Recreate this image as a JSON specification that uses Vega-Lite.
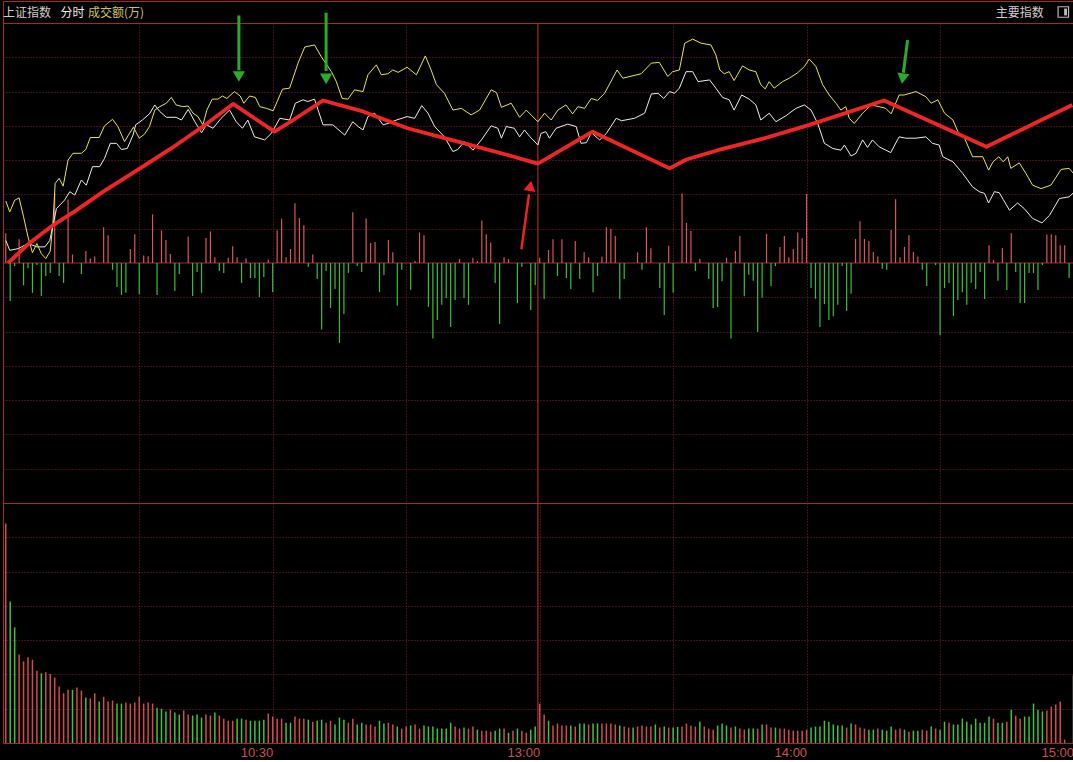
{
"$schema":"https://vega.github.io/schema/vega-lite/v6.json",
"background":"#000000",
"padding":0,
"autosize":{"type":"pad"},
"spacing":0,
"bounds":"flush",
"resolve":{"scale":{"x":"independent","y":"independent","color":"independent"}},
"config":{
 "view":{"stroke":"#a82828","strokeWidth":1},
 "axis":{"gridColor":"#8c2020","gridDash":[1,2],"gridOpacity":1,"gridWidth":1,"ticks":false,"domain":false,"labels":false}
},
"datasets":{
"hdr":[{"t":-0.62,"v":0.45,"s":"上证指数","k":"a"},{"t":12.3,"v":0.45,"s":"分时","k":"b"},{"t":18.5,"v":0.45,"s":"成交额(万)","k":"c"},{"t":222.5,"v":0.45,"s":"主要指数","k":"a"}],
"icon":[{"t":237.7,"v":0.5}],
"zero":[{"t":-0.62,"v":0},{"t":240.1,"v":0}],
"noon":[{"t":119.6,"v":-7},{"t":119.6,"v":7}],
"noonv":[{"t":119.6,"v":0},{"t":119.6,"v":7}],
"flow":[{"t":0,"v":0.87},{"t":1,"v":-1.11},{"t":2,"v":-0.09},{"t":3,"v":0.69},{"t":4,"v":-0.65},{"t":5,"v":-0.15},{"t":6,"v":-0.87},{"t":7,"v":-0.06},{"t":8,"v":-0.96},{"t":9,"v":-0.38},{"t":10,"v":-0.29},{"t":11,"v":2.04},{"t":12,"v":-0.38},{"t":13,"v":-0.58},{"t":14,"v":1.85},{"t":15,"v":0.25},{"t":17,"v":-0.32},{"t":18,"v":0.35},{"t":19,"v":0.13},{"t":20,"v":0.19},{"t":22,"v":1.04},{"t":23,"v":0.81},{"t":24,"v":-0.2},{"t":25,"v":-0.7},{"t":26,"v":-0.93},{"t":27,"v":-0.87},{"t":28,"v":0.41},{"t":29,"v":0.84},{"t":30,"v":-0.91},{"t":31,"v":0.22},{"t":32,"v":0.2},{"t":33,"v":1.42},{"t":34,"v":-0.93},{"t":35,"v":0.95},{"t":36,"v":0.67},{"t":37,"v":0.26},{"t":38,"v":-0.82},{"t":39,"v":-0.32},{"t":41,"v":0.77},{"t":42,"v":-0.96},{"t":43,"v":-0.26},{"t":44,"v":-0.87},{"t":45,"v":0.73},{"t":46,"v":0.92},{"t":47,"v":0.17},{"t":48,"v":-0.23},{"t":49,"v":-0.29},{"t":50,"v":0.15},{"t":51,"v":0.49},{"t":52,"v":0.17},{"t":53,"v":-0.58},{"t":54,"v":0.14},{"t":55,"v":-0.44},{"t":56,"v":-0.44},{"t":57,"v":-0.99},{"t":58,"v":-0.41},{"t":59,"v":0.1},{"t":60,"v":-0.85},{"t":61,"v":0.95},{"t":62,"v":1.29},{"t":63,"v":0.17},{"t":64,"v":0.41},{"t":65,"v":1.74},{"t":66,"v":1.31},{"t":67,"v":1.1},{"t":68,"v":-0.12},{"t":69,"v":0.25},{"t":70,"v":-0.47},{"t":71,"v":-1.94},{"t":72,"v":-0.23},{"t":73,"v":-1.31},{"t":74,"v":-0.76},{"t":75,"v":-2.33},{"t":76,"v":-1.49},{"t":77,"v":-0.29},{"t":78,"v":1.48},{"t":79,"v":-0.09},{"t":80,"v":-0.26},{"t":81,"v":1.3},{"t":82,"v":0.58},{"t":83,"v":0.61},{"t":84,"v":-0.85},{"t":85,"v":-0.35},{"t":86,"v":0.67},{"t":87,"v":0.31},{"t":88,"v":-1.25},{"t":89,"v":-0.2},{"t":91,"v":-0.78},{"t":92,"v":0.06},{"t":93,"v":0.89},{"t":94,"v":0.81},{"t":95,"v":-1.28},{"t":96,"v":-2.2},{"t":97,"v":-1.66},{"t":98,"v":-1.22},{"t":99,"v":-1.02},{"t":100,"v":-1.87},{"t":101,"v":-1.08},{"t":102,"v":0.12},{"t":103,"v":-1.02},{"t":104,"v":-1.22},{"t":105,"v":0.15},{"t":106,"v":0.06},{"t":107,"v":1.24},{"t":108,"v":0.84},{"t":109,"v":0.6},{"t":110,"v":-0.58},{"t":111,"v":-1.78},{"t":112,"v":0.17},{"t":113,"v":0.12},{"t":115,"v":-1.17},{"t":116,"v":-0.12},{"t":118,"v":-1.37},{"t":119,"v":-0.64},{"t":120,"v":0.15},{"t":121,"v":-1.05},{"t":122,"v":0.38},{"t":123,"v":0.69},{"t":124,"v":-0.38},{"t":125,"v":0.69},{"t":126,"v":-0.44},{"t":127,"v":-0.76},{"t":128,"v":0.64},{"t":129,"v":-0.47},{"t":130,"v":0.31},{"t":131,"v":0.17},{"t":132,"v":-0.85},{"t":133,"v":-0.38},{"t":134,"v":0.19},{"t":135,"v":1.04},{"t":136,"v":1.0},{"t":137,"v":0.79},{"t":138,"v":-1.05},{"t":139,"v":-0.47},{"t":142,"v":0.31},{"t":143,"v":-0.2},{"t":144,"v":1.04},{"t":145,"v":0.43},{"t":147,"v":-0.73},{"t":148,"v":-1.52},{"t":149,"v":0.5},{"t":150,"v":-0.87},{"t":152,"v":2.03},{"t":153,"v":1.17},{"t":154,"v":0.93},{"t":155,"v":-0.23},{"t":156,"v":0.12},{"t":158,"v":-0.47},{"t":159,"v":-1.31},{"t":160,"v":-1.28},{"t":161,"v":-0.53},{"t":162,"v":0.15},{"t":163,"v":-2.2},{"t":164,"v":0.35},{"t":165,"v":0.79},{"t":166,"v":-0.97},{"t":167,"v":-0.34},{"t":168,"v":-0.52},{"t":169,"v":-2.01},{"t":170,"v":-1.01},{"t":171,"v":0.85},{"t":172,"v":-0.67},{"t":173,"v":-0.09},{"t":174,"v":0.47},{"t":175,"v":0.79},{"t":176,"v":0.17},{"t":177,"v":0.41},{"t":178,"v":0.89},{"t":179,"v":0.72},{"t":180,"v":2.01},{"t":181,"v":-0.73},{"t":182,"v":-1.04},{"t":183,"v":-1.87},{"t":184,"v":-1.2},{"t":185,"v":-1.66},{"t":186,"v":-1.55},{"t":187,"v":-1.22},{"t":188,"v":-0.09},{"t":189,"v":-1.4},{"t":190,"v":-0.9},{"t":191,"v":0.7},{"t":192,"v":1.22},{"t":193,"v":0.7},{"t":194,"v":0.64},{"t":195,"v":0.32},{"t":196,"v":0.19},{"t":197,"v":-0.17},{"t":198,"v":-0.2},{"t":199,"v":0.96},{"t":200,"v":1.86},{"t":201,"v":0.17},{"t":202,"v":0.47},{"t":203,"v":0.81},{"t":204,"v":0.32},{"t":205,"v":0.19},{"t":206,"v":-0.2},{"t":207,"v":-0.67},{"t":209,"v":-0.06},{"t":210,"v":-2.1},{"t":211,"v":-0.73},{"t":212,"v":-0.58},{"t":213,"v":-1.55},{"t":214,"v":-1.08},{"t":215,"v":-0.85},{"t":216,"v":-1.22},{"t":217,"v":-0.58},{"t":218,"v":-0.76},{"t":219,"v":-0.26},{"t":220,"v":-1.05},{"t":221,"v":0.52},{"t":222,"v":0.09},{"t":223,"v":-0.52},{"t":224,"v":0.44},{"t":225,"v":-0.79},{"t":226,"v":0.87},{"t":227,"v":-0.26},{"t":228,"v":-1.17},{"t":229,"v":-1.17},{"t":230,"v":-0.29},{"t":231,"v":-0.29},{"t":232,"v":-0.79},{"t":233,"v":-0.06},{"t":234,"v":0.83},{"t":235,"v":0.84},{"t":236,"v":0.81},{"t":237,"v":0.52},{"t":238,"v":0.52},{"t":239,"v":-0.44}],
"yellow":[{"t":0,"v":1.81},{"t":0.9,"v":1.49},{"t":2,"v":1.83},{"t":3,"v":1.9},{"t":4,"v":1.35},{"t":5,"v":0.76},{"t":6,"v":0.3},{"t":7,"v":0.57},{"t":8,"v":0.27},{"t":9,"v":0.13},{"t":10,"v":0.35},{"t":10.6,"v":1.15},{"t":11.1,"v":2.32},{"t":12,"v":2.47},{"t":12.9,"v":2.24},{"t":14,"v":3.0},{"t":15.1,"v":3.2},{"t":17,"v":3.2},{"t":18,"v":3.31},{"t":19,"v":3.66},{"t":21,"v":3.66},{"t":22.2,"v":4.0},{"t":24,"v":4.19},{"t":25.2,"v":3.98},{"t":26.7,"v":3.54},{"t":27.7,"v":3.76},{"t":28.7,"v":3.96},{"t":30,"v":3.64},{"t":31.2,"v":3.76},{"t":32.3,"v":3.98},{"t":33.5,"v":4.46},{"t":34.6,"v":4.56},{"t":36.1,"v":4.66},{"t":37.2,"v":4.83},{"t":38.3,"v":4.61},{"t":39.8,"v":4.56},{"t":41,"v":4.58},{"t":42.1,"v":4.37},{"t":43.2,"v":4.27},{"t":44.3,"v":4.03},{"t":45.2,"v":4.46},{"t":46.4,"v":4.78},{"t":47.7,"v":4.78},{"t":48.7,"v":4.87},{"t":49.7,"v":4.8},{"t":51.4,"v":5.0},{"t":52.7,"v":4.87},{"t":53.5,"v":4.66},{"t":54.8,"v":4.87},{"t":56.1,"v":4.83},{"t":57.1,"v":4.56},{"t":58.6,"v":4.51},{"t":60.1,"v":4.44},{"t":61,"v":4.71},{"t":62.2,"v":5.07},{"t":63.8,"v":5.1},{"t":65.7,"v":5.83},{"t":67.2,"v":6.3},{"t":69.4,"v":6.36},{"t":70.9,"v":6.02},{"t":73.2,"v":5.58},{"t":74.3,"v":5.29},{"t":75.6,"v":4.8},{"t":76.9,"v":4.78},{"t":78.4,"v":5.05},{"t":80.3,"v":5.0},{"t":81.4,"v":5.49},{"t":83.3,"v":5.78},{"t":84.4,"v":5.49},{"t":85.9,"v":5.52},{"t":87,"v":5.63},{"t":88.2,"v":5.56},{"t":90.2,"v":5.71},{"t":92.3,"v":5.49},{"t":94.3,"v":6.04},{"t":95.6,"v":5.63},{"t":96.8,"v":5.2},{"t":98.6,"v":4.95},{"t":100.5,"v":4.46},{"t":102.4,"v":4.51},{"t":104.6,"v":4.32},{"t":106.5,"v":4.46},{"t":109.1,"v":5.05},{"t":110.3,"v":4.97},{"t":111.4,"v":4.54},{"t":113.6,"v":4.66},{"t":115.5,"v":4.25},{"t":117,"v":4.46},{"t":118.3,"v":4.29},{"t":119.6,"v":4.12},{"t":121.1,"v":4.37},{"t":122.6,"v":4.17},{"t":124.1,"v":4.46},{"t":125.9,"v":4.61},{"t":127.4,"v":4.35},{"t":128.6,"v":4.56},{"t":130.1,"v":4.51},{"t":131.6,"v":4.8},{"t":133,"v":4.74},{"t":134.6,"v":4.95},{"t":137.4,"v":5.63},{"t":138.7,"v":5.39},{"t":142.8,"v":5.52},{"t":145.1,"v":5.83},{"t":146.9,"v":5.85},{"t":148.8,"v":5.44},{"t":149.9,"v":5.58},{"t":151.4,"v":5.63},{"t":152.6,"v":6.41},{"t":154.4,"v":6.53},{"t":156.3,"v":6.41},{"t":158.5,"v":6.36},{"t":159.6,"v":6.07},{"t":160.5,"v":5.63},{"t":161.5,"v":5.52},{"t":162.6,"v":5.58},{"t":163.7,"v":5.32},{"t":165.6,"v":5.75},{"t":167.1,"v":5.63},{"t":168.6,"v":5.58},{"t":169.7,"v":5.2},{"t":170.7,"v":5.08},{"t":171.6,"v":5.29},{"t":172.7,"v":5.1},{"t":174.6,"v":5.29},{"t":176.1,"v":5.39},{"t":177.9,"v":5.54},{"t":179.5,"v":5.73},{"t":180.6,"v":5.95},{"t":182.1,"v":5.73},{"t":183.6,"v":5.2},{"t":185.1,"v":4.9},{"t":186.6,"v":4.66},{"t":187.7,"v":4.46},{"t":188.8,"v":4.56},{"t":189.6,"v":4.22},{"t":190.7,"v":4.07},{"t":192.6,"v":4.37},{"t":194.5,"v":4.61},{"t":196.3,"v":4.56},{"t":197.8,"v":4.51},{"t":199,"v":4.35},{"t":200.8,"v":4.9},{"t":201.9,"v":4.9},{"t":204.6,"v":5.0},{"t":206.8,"v":4.85},{"t":208,"v":4.66},{"t":209.5,"v":4.76},{"t":211,"v":4.37},{"t":212.9,"v":4.17},{"t":214,"v":3.83},{"t":215.5,"v":3.64},{"t":217.3,"v":3.1},{"t":219.6,"v":3.1},{"t":220.9,"v":2.71},{"t":221.9,"v":2.95},{"t":223.2,"v":3.1},{"t":224.2,"v":2.95},{"t":225.2,"v":3.1},{"t":225.9,"v":2.76},{"t":227.8,"v":2.92},{"t":229.3,"v":2.61},{"t":230.8,"v":2.27},{"t":232.7,"v":2.17},{"t":234.9,"v":2.27},{"t":237.2,"v":2.73},{"t":239,"v":2.76},{"t":240,"v":2.61}],
"white":[{"t":0,"v":0.66},{"t":0.9,"v":0.37},{"t":2.8,"v":0.42},{"t":5,"v":0.57},{"t":7,"v":0.47},{"t":8.8,"v":0.47},{"t":9.9,"v":0.66},{"t":11.4,"v":1.59},{"t":13.2,"v":1.83},{"t":14.4,"v":2.08},{"t":15.5,"v":1.98},{"t":17,"v":2.42},{"t":18.1,"v":2.27},{"t":19.5,"v":2.81},{"t":21.1,"v":2.81},{"t":22.2,"v":3.05},{"t":23.5,"v":3.49},{"t":24.9,"v":3.49},{"t":26,"v":3.31},{"t":27.3,"v":3.34},{"t":28.6,"v":3.73},{"t":29.2,"v":4.03},{"t":30.7,"v":4.17},{"t":32.3,"v":4.35},{"t":33.5,"v":4.61},{"t":34.6,"v":4.42},{"t":36.1,"v":4.25},{"t":38.3,"v":4.25},{"t":39.5,"v":4.17},{"t":41,"v":4.48},{"t":42.5,"v":4.12},{"t":44,"v":3.8},{"t":45.1,"v":4.03},{"t":46.6,"v":3.93},{"t":48.4,"v":4.22},{"t":50.3,"v":4.46},{"t":51.8,"v":4.12},{"t":53.2,"v":3.93},{"t":54.4,"v":4.17},{"t":55.9,"v":3.68},{"t":58.2,"v":3.59},{"t":59.7,"v":3.78},{"t":61.6,"v":4.22},{"t":63.8,"v":4.17},{"t":65.1,"v":4.66},{"t":66.8,"v":4.76},{"t":67.9,"v":4.71},{"t":69.4,"v":4.78},{"t":71.3,"v":4.03},{"t":73.5,"v":4.03},{"t":76.2,"v":3.73},{"t":78,"v":4.12},{"t":79.2,"v":3.98},{"t":80.3,"v":3.88},{"t":81.4,"v":4.27},{"t":82.9,"v":4.37},{"t":84.8,"v":4.03},{"t":85.9,"v":4.07},{"t":87.8,"v":4.17},{"t":90.2,"v":4.27},{"t":91.9,"v":4.22},{"t":93.5,"v":4.59},{"t":94.9,"v":4.37},{"t":96.4,"v":3.98},{"t":98.6,"v":3.68},{"t":100.5,"v":3.25},{"t":101.6,"v":3.31},{"t":103.1,"v":3.54},{"t":105,"v":3.29},{"t":106.9,"v":3.59},{"t":109.1,"v":4.0},{"t":110.6,"v":3.93},{"t":111.4,"v":3.64},{"t":112.5,"v":3.98},{"t":114.3,"v":3.93},{"t":115.5,"v":3.68},{"t":116.6,"v":3.88},{"t":117.7,"v":3.7},{"t":119.6,"v":3.44},{"t":120.3,"v":3.78},{"t":121.4,"v":3.83},{"t":122.2,"v":3.64},{"t":123.7,"v":3.93},{"t":126.3,"v":4.05},{"t":128.2,"v":3.98},{"t":129.3,"v":3.49},{"t":130.5,"v":3.51},{"t":131.6,"v":3.8},{"t":133.5,"v":3.59},{"t":135,"v":3.78},{"t":137.2,"v":4.22},{"t":138.4,"v":4.15},{"t":141.3,"v":4.22},{"t":143.6,"v":4.37},{"t":145.1,"v":4.93},{"t":146.6,"v":4.95},{"t":147.9,"v":4.8},{"t":149.2,"v":5.0},{"t":150.3,"v":4.95},{"t":151.4,"v":5.1},{"t":152.9,"v":5.58},{"t":154.4,"v":5.58},{"t":155.6,"v":5.29},{"t":158.2,"v":5.34},{"t":159.6,"v":5.1},{"t":161.1,"v":4.83},{"t":162.6,"v":4.76},{"t":163.7,"v":4.46},{"t":165.4,"v":4.9},{"t":167.1,"v":4.78},{"t":168.6,"v":4.61},{"t":169.7,"v":4.17},{"t":171.6,"v":4.37},{"t":173.1,"v":4.12},{"t":175.3,"v":4.29},{"t":177.6,"v":4.51},{"t":179.5,"v":4.61},{"t":181,"v":4.46},{"t":182.5,"v":4.07},{"t":184,"v":3.49},{"t":185.9,"v":3.34},{"t":187.7,"v":3.29},{"t":188.5,"v":3.44},{"t":190,"v":3.12},{"t":191.1,"v":3.2},{"t":192.6,"v":3.59},{"t":193.7,"v":3.37},{"t":194.8,"v":3.59},{"t":196.3,"v":3.39},{"t":198.9,"v":3.22},{"t":200.8,"v":3.68},{"t":202.3,"v":3.64},{"t":204.6,"v":3.64},{"t":206.8,"v":3.68},{"t":208.3,"v":3.49},{"t":209.8,"v":3.44},{"t":210.6,"v":3.1},{"t":212.9,"v":2.95},{"t":215.1,"v":2.61},{"t":217.3,"v":2.22},{"t":218.8,"v":2.08},{"t":220,"v":2.03},{"t":220.9,"v":1.75},{"t":222.2,"v":2.08},{"t":223.3,"v":2.05},{"t":224.2,"v":1.85},{"t":225.6,"v":1.54},{"t":227.4,"v":1.75},{"t":228.9,"v":1.59},{"t":230.8,"v":1.3},{"t":232.9,"v":1.17},{"t":234.6,"v":1.39},{"t":236.8,"v":1.88},{"t":239,"v":1.93},{"t":240,"v":2.05}],
"trend":[{"t":0.5,"v":0},{"t":5.5,"v":0.6},{"t":10.6,"v":1.1},{"t":16,"v":1.55},{"t":21.9,"v":2.08},{"t":30.8,"v":2.81},{"t":37.5,"v":3.37},{"t":44.3,"v":3.98},{"t":51.1,"v":4.64},{"t":60.4,"v":3.83},{"t":64,"v":4.12},{"t":71.3,"v":4.74},{"t":80.3,"v":4.42},{"t":90.3,"v":3.93},{"t":101.6,"v":3.54},{"t":112.8,"v":3.15},{"t":119.6,"v":2.9},{"t":131.9,"v":3.83},{"t":149.2,"v":2.76},{"t":153,"v":3.02},{"t":160,"v":3.29},{"t":170,"v":3.62},{"t":180.6,"v":4.03},{"t":197.4,"v":4.74},{"t":220.4,"v":3.39},{"t":239.7,"v":4.61}],
"shafts":[{"id":1,"t":52.4,"v":7.22,"t2":52.4,"v2":5.62},{"id":2,"t":72.0,"v":7.3,"t2":72.0,"v2":5.6},{"id":3,"t":202.7,"v":6.5,"t2":201.75,"v2":5.55},{"id":4,"t":115.9,"v":0.4,"t2":117.6,"v2":2.0}],
"heads":[{"id":1,"t":52.4,"v":5.44},{"id":2,"t":72.0,"v":5.37},{"id":3,"t":201.6,"v":5.38},{"id":4,"t":117.9,"v":2.25}],
"vol":[{"t":0,"v":6.4,"c":"r"},{"t":1,"v":4.13,"c":"g"},{"t":2,"v":3.37,"c":"g"},{"t":3,"v":2.58,"c":"r"},{"t":4,"v":2.38,"c":"r"},{"t":5,"v":2.5,"c":"r"},{"t":6,"v":2.43,"c":"r"},{"t":7,"v":2.11,"c":"r"},{"t":8,"v":2.03,"c":"g"},{"t":9,"v":2.06,"c":"r"},{"t":10,"v":2.01,"c":"r"},{"t":11,"v":1.91,"c":"r"},{"t":12,"v":1.65,"c":"r"},{"t":13,"v":1.45,"c":"r"},{"t":14,"v":1.55,"c":"r"},{"t":15,"v":1.55,"c":"g"},{"t":16,"v":1.62,"c":"r"},{"t":17,"v":1.53,"c":"r"},{"t":18,"v":1.33,"c":"g"},{"t":19,"v":1.3,"c":"r"},{"t":20,"v":1.45,"c":"r"},{"t":21,"v":1.21,"c":"g"},{"t":22,"v":1.35,"c":"r"},{"t":23,"v":1.21,"c":"r"},{"t":24,"v":1.24,"c":"r"},{"t":25,"v":1.15,"c":"g"},{"t":26,"v":1.15,"c":"g"},{"t":27,"v":1.18,"c":"r"},{"t":28,"v":1.15,"c":"r"},{"t":29,"v":1.18,"c":"r"},{"t":30,"v":1.35,"c":"r"},{"t":31,"v":1.15,"c":"r"},{"t":32,"v":1.18,"c":"r"},{"t":33,"v":1.15,"c":"r"},{"t":34,"v":1.03,"c":"g"},{"t":35,"v":1.0,"c":"g"},{"t":36,"v":0.92,"c":"g"},{"t":37,"v":0.97,"c":"r"},{"t":38,"v":0.89,"c":"g"},{"t":39,"v":0.83,"c":"g"},{"t":40,"v":0.95,"c":"r"},{"t":41,"v":0.83,"c":"r"},{"t":42,"v":0.8,"c":"g"},{"t":43,"v":0.83,"c":"g"},{"t":44,"v":0.74,"c":"g"},{"t":45,"v":0.83,"c":"r"},{"t":46,"v":0.8,"c":"r"},{"t":47,"v":0.89,"c":"g"},{"t":48,"v":0.8,"c":"r"},{"t":49,"v":0.71,"c":"r"},{"t":50,"v":0.65,"c":"r"},{"t":51,"v":0.65,"c":"r"},{"t":52,"v":0.71,"c":"g"},{"t":53,"v":0.71,"c":"g"},{"t":54,"v":0.68,"c":"r"},{"t":55,"v":0.65,"c":"g"},{"t":56,"v":0.65,"c":"g"},{"t":57,"v":0.65,"c":"g"},{"t":58,"v":0.68,"c":"g"},{"t":59,"v":0.86,"c":"r"},{"t":60,"v":0.77,"c":"r"},{"t":61,"v":0.71,"c":"r"},{"t":62,"v":0.71,"c":"r"},{"t":63,"v":0.59,"c":"g"},{"t":64,"v":0.59,"c":"g"},{"t":65,"v":0.77,"c":"r"},{"t":66,"v":0.71,"c":"r"},{"t":67,"v":0.71,"c":"r"},{"t":68,"v":0.68,"c":"g"},{"t":69,"v":0.62,"c":"r"},{"t":70,"v":0.65,"c":"g"},{"t":71,"v":0.68,"c":"g"},{"t":72,"v":0.59,"c":"r"},{"t":73,"v":0.65,"c":"r"},{"t":74,"v":0.54,"c":"g"},{"t":75,"v":0.74,"c":"g"},{"t":76,"v":0.68,"c":"g"},{"t":77,"v":0.59,"c":"r"},{"t":78,"v":0.71,"c":"r"},{"t":79,"v":0.54,"c":"g"},{"t":80,"v":0.59,"c":"g"},{"t":81,"v":0.54,"c":"r"},{"t":82,"v":0.54,"c":"r"},{"t":83,"v":0.48,"c":"r"},{"t":84,"v":0.65,"c":"g"},{"t":85,"v":0.57,"c":"g"},{"t":86,"v":0.59,"c":"r"},{"t":87,"v":0.54,"c":"r"},{"t":88,"v":0.48,"c":"g"},{"t":89,"v":0.42,"c":"r"},{"t":90,"v":0.48,"c":"r"},{"t":91,"v":0.51,"c":"g"},{"t":92,"v":0.54,"c":"r"},{"t":93,"v":0.42,"c":"r"},{"t":94,"v":0.51,"c":"g"},{"t":95,"v":0.48,"c":"g"},{"t":96,"v":0.48,"c":"g"},{"t":97,"v":0.42,"c":"g"},{"t":98,"v":0.42,"c":"g"},{"t":99,"v":0.42,"c":"g"},{"t":100,"v":0.59,"c":"g"},{"t":101,"v":0.48,"c":"r"},{"t":102,"v":0.42,"c":"r"},{"t":103,"v":0.45,"c":"g"},{"t":104,"v":0.42,"c":"r"},{"t":105,"v":0.48,"c":"r"},{"t":106,"v":0.39,"c":"g"},{"t":107,"v":0.36,"c":"r"},{"t":108,"v":0.36,"c":"r"},{"t":109,"v":0.33,"c":"r"},{"t":110,"v":0.36,"c":"g"},{"t":111,"v":0.42,"c":"g"},{"t":112,"v":0.42,"c":"r"},{"t":113,"v":0.3,"c":"g"},{"t":114,"v":0.36,"c":"r"},{"t":115,"v":0.42,"c":"g"},{"t":116,"v":0.36,"c":"r"},{"t":117,"v":0.3,"c":"r"},{"t":118,"v":0.39,"c":"g"},{"t":119,"v":0.48,"c":"g"},{"t":120,"v":1.15,"c":"r"},{"t":121,"v":0.83,"c":"r"},{"t":122,"v":0.65,"c":"g"},{"t":123,"v":0.51,"c":"r"},{"t":124,"v":0.57,"c":"r"},{"t":125,"v":0.51,"c":"r"},{"t":126,"v":0.51,"c":"r"},{"t":127,"v":0.51,"c":"g"},{"t":128,"v":0.48,"c":"r"},{"t":129,"v":0.57,"c":"g"},{"t":130,"v":0.57,"c":"g"},{"t":131,"v":0.54,"c":"r"},{"t":132,"v":0.57,"c":"g"},{"t":133,"v":0.57,"c":"g"},{"t":134,"v":0.57,"c":"r"},{"t":135,"v":0.57,"c":"r"},{"t":136,"v":0.57,"c":"r"},{"t":137,"v":0.54,"c":"r"},{"t":138,"v":0.51,"c":"g"},{"t":139,"v":0.48,"c":"r"},{"t":140,"v":0.45,"c":"r"},{"t":141,"v":0.45,"c":"g"},{"t":142,"v":0.48,"c":"r"},{"t":143,"v":0.51,"c":"r"},{"t":144,"v":0.48,"c":"r"},{"t":145,"v":0.48,"c":"r"},{"t":146,"v":0.54,"c":"g"},{"t":147,"v":0.45,"c":"r"},{"t":148,"v":0.48,"c":"g"},{"t":149,"v":0.45,"c":"r"},{"t":150,"v":0.45,"c":"g"},{"t":151,"v":0.47,"c":"g"},{"t":152,"v":0.48,"c":"r"},{"t":153,"v":0.57,"c":"r"},{"t":154,"v":0.51,"c":"r"},{"t":155,"v":0.48,"c":"r"},{"t":156,"v":0.62,"c":"g"},{"t":157,"v":0.48,"c":"r"},{"t":158,"v":0.42,"c":"r"},{"t":159,"v":0.39,"c":"r"},{"t":160,"v":0.51,"c":"g"},{"t":161,"v":0.57,"c":"g"},{"t":162,"v":0.51,"c":"g"},{"t":163,"v":0.45,"c":"r"},{"t":164,"v":0.48,"c":"g"},{"t":165,"v":0.42,"c":"r"},{"t":166,"v":0.39,"c":"r"},{"t":167,"v":0.42,"c":"g"},{"t":168,"v":0.42,"c":"g"},{"t":169,"v":0.42,"c":"r"},{"t":170,"v":0.54,"c":"g"},{"t":171,"v":0.54,"c":"r"},{"t":172,"v":0.45,"c":"r"},{"t":173,"v":0.45,"c":"g"},{"t":174,"v":0.42,"c":"r"},{"t":175,"v":0.42,"c":"r"},{"t":176,"v":0.39,"c":"r"},{"t":177,"v":0.36,"c":"r"},{"t":178,"v":0.36,"c":"r"},{"t":179,"v":0.36,"c":"r"},{"t":180,"v":0.39,"c":"r"},{"t":181,"v":0.45,"c":"g"},{"t":182,"v":0.48,"c":"g"},{"t":183,"v":0.48,"c":"g"},{"t":184,"v":0.65,"c":"g"},{"t":185,"v":0.62,"c":"g"},{"t":186,"v":0.54,"c":"g"},{"t":187,"v":0.51,"c":"g"},{"t":188,"v":0.51,"c":"g"},{"t":189,"v":0.45,"c":"r"},{"t":190,"v":0.57,"c":"g"},{"t":191,"v":0.54,"c":"r"},{"t":192,"v":0.45,"c":"r"},{"t":193,"v":0.42,"c":"r"},{"t":194,"v":0.39,"c":"g"},{"t":195,"v":0.39,"c":"g"},{"t":196,"v":0.42,"c":"r"},{"t":197,"v":0.39,"c":"g"},{"t":198,"v":0.36,"c":"g"},{"t":199,"v":0.48,"c":"g"},{"t":200,"v":0.39,"c":"r"},{"t":201,"v":0.42,"c":"r"},{"t":202,"v":0.39,"c":"g"},{"t":203,"v":0.33,"c":"r"},{"t":204,"v":0.36,"c":"g"},{"t":205,"v":0.36,"c":"g"},{"t":206,"v":0.39,"c":"r"},{"t":207,"v":0.36,"c":"r"},{"t":208,"v":0.48,"c":"g"},{"t":209,"v":0.42,"c":"r"},{"t":210,"v":0.39,"c":"g"},{"t":211,"v":0.62,"c":"g"},{"t":212,"v":0.59,"c":"r"},{"t":213,"v":0.54,"c":"g"},{"t":214,"v":0.54,"c":"g"},{"t":215,"v":0.71,"c":"g"},{"t":216,"v":0.62,"c":"g"},{"t":217,"v":0.54,"c":"g"},{"t":218,"v":0.71,"c":"g"},{"t":219,"v":0.59,"c":"g"},{"t":220,"v":0.59,"c":"g"},{"t":221,"v":0.77,"c":"g"},{"t":222,"v":0.71,"c":"r"},{"t":223,"v":0.59,"c":"g"},{"t":224,"v":0.59,"c":"g"},{"t":225,"v":0.62,"c":"r"},{"t":226,"v":0.97,"c":"g"},{"t":227,"v":0.8,"c":"r"},{"t":228,"v":0.71,"c":"r"},{"t":229,"v":0.77,"c":"g"},{"t":230,"v":0.77,"c":"g"},{"t":231,"v":1.15,"c":"g"},{"t":232,"v":0.97,"c":"g"},{"t":233,"v":0.92,"c":"g"},{"t":234,"v":0.95,"c":"r"},{"t":235,"v":1.06,"c":"r"},{"t":236,"v":1.12,"c":"r"},{"t":237,"v":1.21,"c":"r"},{"t":238,"v":0.1,"c":"r"},{"t":240,"v":1.97,"c":"w"}]
},
"vconcat":[
{
 "width":1071,"height":22,
 "encoding":{
  "x":{"field":"t","type":"quantitative","scale":{"domain":[-0.62,240.1],"nice":false,"zero":false},"axis":null},
  "y":{"field":"v","type":"quantitative","scale":{"domain":[0,1],"nice":false,"zero":false},"axis":null}
 },
 "layer":[
  {"data":{"name":"hdr"},"mark":{"type":"text","align":"left","baseline":"middle","font":"Noto Sans CJK SC","fontSize":12},
   "encoding":{"text":{"field":"s"},"color":{"field":"k","type":"nominal","scale":{"domain":["a","b","c"],"range":["#cfcfcf","#ededed","#cbc46c"]},"legend":null}}},
  {"data":{"name":"icon"},"mark":{"type":"point","shape":"square","size":110,"filled":false,"stroke":"#b8b8b8","strokeWidth":1.2,"opacity":1}},
  {"data":{"name":"icon"},"mark":{"type":"point","shape":"M0.15,-0.65L0.7,-0.65L0.7,0.65L0.15,0.65Z","size":110,"filled":true,"fill":"#b8b8b8","opacity":1}}
 ]
},
{
 "width":1071,"height":480,
 "encoding":{
  "x":{"field":"t","type":"quantitative","scale":{"domain":[-0.62,240.1],"nice":false,"zero":false},"axis":{"grid":true,"values":[30,60,90,150,180,210],"title":null}},
  "y":{"field":"v","type":"quantitative","scale":{"domain":[-7,7],"nice":false,"zero":false},"axis":{"grid":true,"values":[-6,-5,-4,-3,-2,-1,1,2,3,4,5,6],"title":null}}
 },
 "layer":[
  {"data":{"name":"zero"},"mark":{"type":"line","color":"#a82828","strokeWidth":1}},
  {"data":{"name":"noon"},"mark":{"type":"line","color":"#c23030","strokeWidth":1}},
  {"data":{"name":"flow"},"mark":{"type":"rule","strokeWidth":1.2},
   "encoding":{"y2":{"datum":0},"color":{"condition":{"test":"datum.v > 0","value":"#d95757"},"value":"#38c038"}}},
  {"data":{"name":"white"},"mark":{"type":"line","color":"#eeeeee","strokeWidth":1}},
  {"data":{"name":"yellow"},"mark":{"type":"line","color":"#e8e84c","strokeWidth":1}},
  {"data":{"name":"trend"},"mark":{"type":"line","color":"#f22525","strokeWidth":3.8,"strokeJoin":"round"}},
  {"data":{"name":"shafts"},"transform":[{"filter":"datum.id < 4"}],"mark":{"type":"rule","color":"#2aab2a","strokeWidth":3},
   "encoding":{"x2":{"field":"t2"},"y2":{"field":"v2"}}},
  {"data":{"name":"shafts"},"transform":[{"filter":"datum.id == 4"}],"mark":{"type":"rule","color":"#ee2222","strokeWidth":2.5},
   "encoding":{"x2":{"field":"t2"},"y2":{"field":"v2"}}},
  {"data":{"name":"heads"},"transform":[{"filter":"datum.id <= 2"}],"mark":{"type":"point","shape":"triangle-down","size":150,"filled":true,"color":"#2aab2a","opacity":1}},
  {"data":{"name":"heads"},"transform":[{"filter":"datum.id == 3"}],"mark":{"type":"point","shape":"triangle-down","size":150,"filled":true,"color":"#2aab2a","opacity":1,"angle":8}},
  {"data":{"name":"heads"},"transform":[{"filter":"datum.id == 4"}],"mark":{"type":"point","shape":"triangle-up","size":140,"filled":true,"color":"#ee2222","opacity":1,"angle":10}}
 ]
},
{
 "width":1071,"height":240,
 "encoding":{
  "x":{"field":"t","type":"quantitative","scale":{"domain":[-0.62,240.1],"nice":false,"zero":false},
   "axis":{"grid":true,"values":[30,60,90,120,150,180,210,240],"title":null,"labels":true,
    "labelExpr":"datum.value == 60 ? '10:30' : datum.value == 120 ? '13:00' : datum.value == 180 ? '14:00' : datum.value == 240 ? '15:00' : ''",
    "labelAlign":"right","labelColor":"#cc5050","labelFont":"Liberation Sans","labelFontSize":13,"labelPadding":3,"labelFlush":false,"labelOverlap":false}},
  "y":{"field":"v","type":"quantitative","scale":{"domain":[0,7],"nice":false,"zero":false},"axis":{"grid":true,"values":[1,2,3,4,5,6],"title":null}}
 },
 "layer":[
  {"data":{"name":"noonv"},"mark":{"type":"line","color":"#c23030","strokeWidth":1}},
  {"data":{"name":"vol"},"mark":{"type":"rule","strokeWidth":1.5},
   "encoding":{"y2":{"datum":0},"color":{"field":"c","type":"nominal","scale":{"domain":["r","g","w"],"range":["#d24c4c","#3ec43e","#f0f0f0"]},"legend":null}}}
 ]
}
]
}
